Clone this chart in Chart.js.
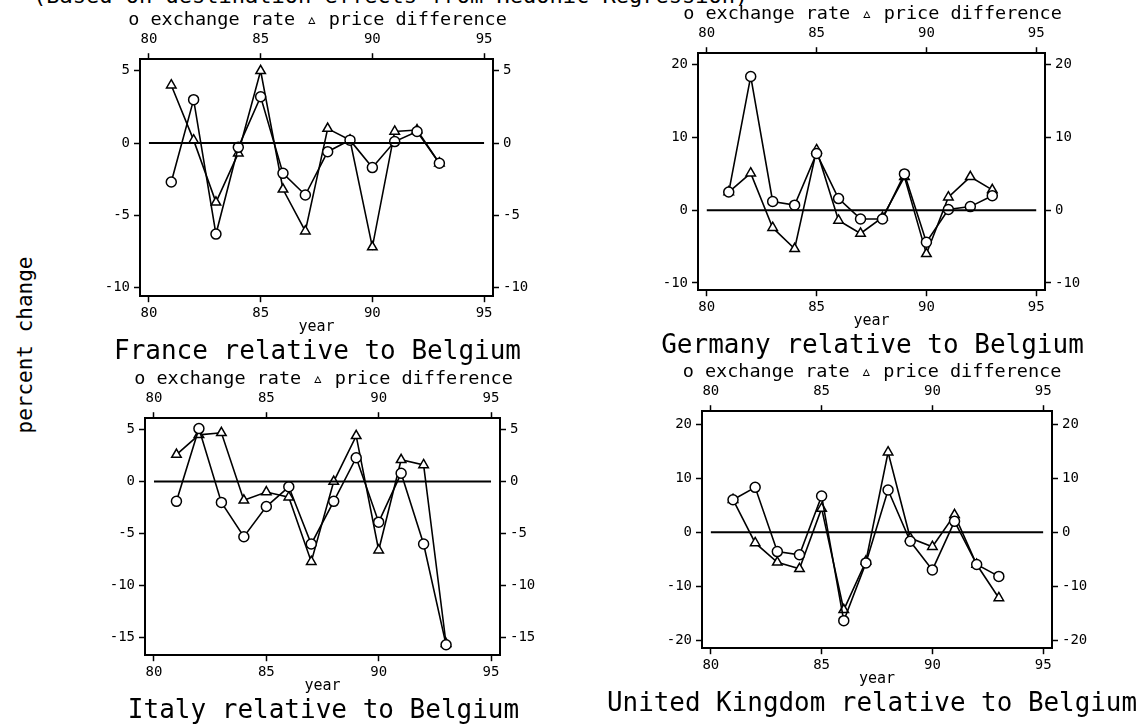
<!DOCTYPE html>
<html>
<head>
<meta charset="utf-8">
<script src="https://cdn.jsdelivr.net/npm/chart.js@4"></script>
<style>
  body { margin: 0; background: #fff; width: 1147px; height: 727px; overflow: hidden; position: relative; font-family: "DejaVu Sans Mono", monospace; }
  .panel { position: absolute; }
  #topNote { position: absolute; left: 33px; top: -17px; font-size: 22px; white-space: nowrap; color: #000; }
  #yLabel { position: absolute; left: 25px; top: 345px; font-size: 21px; white-space: nowrap; color: #000;
            transform: translate(-50%, -50%) rotate(-90deg); }
</style>
</head>
<body>
<div id="topNote">(Based on destination effects from Hedonic Regression)</div>
<div id="yLabel">percent change</div>
<div class="panel" id="p1"><canvas id="c1"></canvas></div>
<div class="panel" id="p2"><canvas id="c2"></canvas></div>
<div class="panel" id="p3"><canvas id="c3"></canvas></div>
<div class="panel" id="p4"><canvas id="c4"></canvas></div>
<script>
const years = [81, 82, 83, 84, 85, 86, 87, 88, 89, 90, 91, 92, 93];
const yearTicks = [80, 85, 90, 95];

// percent change: o exchange rate, triangle price difference
const franceRate   = [-2.7, 3.0, -6.3, -0.3, 3.2, -2.1, -3.6, -0.6, 0.2, -1.7, 0.1, 0.8, -1.4];
const francePrice  = [4.0, 0.2, -4.1, -0.7, 5.0, -3.2, -6.1, 1.0, 0.2, -7.2, 0.8, 0.9, -1.4];
const germanyRate  = [2.5, 18.4, 1.2, 0.7, 7.8, 1.6, -1.2, -1.2, 5.0, -4.4, 0.1, 0.5, 2.0];
const germanyPrice = [2.5, 5.1, -2.4, -5.3, 8.3, -1.4, -3.2, -1.0, 4.6, -6.0, 1.8, 4.6, 2.8];
const italyRate    = [-1.9, 5.1, -2.0, -5.3, -2.4, -0.5, -6.0, -1.9, 2.3, -3.9, 0.8, -6.0, -15.7];
const italyPrice   = [2.6, 4.5, 4.7, -1.8, -1.0, -1.5, -7.7, 0.0, 4.4, -6.6, 2.1, 1.6, -15.6];
const ukRate       = [6.0, 8.3, -3.6, -4.2, 6.7, -16.4, -5.7, 7.8, -1.7, -7.0, 2.0, -6.0, -8.2];
const ukPrice      = [6.0, -2.0, -5.6, -6.8, 4.4, -14.4, -5.4, 14.8, -1.1, -2.7, 3.2, -6.0, -12.2];

const franceTicks  = [-10, -5, 0, 5];
const germanyTicks = [-10, 0, 10, 20];
const italyTicks   = [-15, -10, -5, 0, 5];
const ukTicks      = [-20, -10, 0, 10, 20];

const FONT = "DejaVu Sans Mono";
const SUB_SIZE = 18.5, TITLE_SIZE = 26;
const TOP_H = 28, BOTTOM_H = 40, SUB_H = SUB_SIZE * 1.2, TITLE_H = TITLE_SIZE * 1.2;

function toPoints(vals) {
  return years.map((yr, i) => ({ x: yr, y: vals[i] }));
}

function fixedTicks(vals) {
  return scale => { scale.ticks = vals.map(v => ({ value: v })); };
}

function axis(pos, ticks, size, extra) {
  const horiz = pos === "top" || pos === "bottom";
  return Object.assign({
    type: "linear",
    position: pos,
    afterBuildTicks: fixedTicks(ticks),
    afterFit: s => {
      if (horiz) s.height = size;
      else s.width = size;
    },
    grid: { drawOnChartArea: false, drawTicks: true, tickLength: 6, color: "#000", tickWidth: 1.5 },
    border: { display: true, color: "#000", width: 2 },
    ticks: { color: "#000", font: { family: FONT, size: 14 }, padding: horiz ? (pos === "top" ? 5 : 3) : 4,
             maxRotation: 0, autoSkip: false }
  }, extra || {});
}

function makeChart(id, panelId, area, rate, price, yTicks, yMin, yMax, title) {
  const panel = document.getElementById(panelId);
  const lw = area.lw || 45, rw = area.rw || 47;
  const left = area.left - lw;
  const top = area.top - SUB_H - TOP_H;
  const w = area.right - area.left + lw + rw;
  const h = SUB_H + TOP_H + (area.bottom - area.top) + BOTTOM_H + TITLE_H;
  panel.style.left = left + "px";
  panel.style.top = top + "px";
  panel.style.width = w + "px";
  panel.style.height = h + "px";

  new Chart(document.getElementById(id), {
    type: "line",
    data: {
      datasets: [
        {
          label: "zero",
          data: [{ x: 80, y: 0 }, { x: 95, y: 0 }],
          borderColor: "#000",
          borderWidth: 2,
          pointRadius: 0,
          xAxisID: "x",
          yAxisID: "y"
        },
        {
          label: "exchange rate",
          data: toPoints(rate),
          borderColor: "#000",
          borderWidth: 1.6,
          pointStyle: "circle",
          pointRadius: 5,
          pointBorderWidth: 1.5,
          pointBackgroundColor: "#fff",
          pointBorderColor: "#000",
          tension: 0,
          xAxisID: "x",
          yAxisID: "y"
        },
        {
          label: "price difference",
          data: toPoints(price),
          borderColor: "#000",
          borderWidth: 1.6,
          pointStyle: "triangle",
          pointRadius: 5.5,
          pointBorderWidth: 1.5,
          pointBackgroundColor: "#fff",
          pointBorderColor: "#000",
          tension: 0,
          xAxisID: "x",
          yAxisID: "y"
        }
      ]
    },
    options: {
      responsive: true,
      maintainAspectRatio: false,
      animation: false,
      layout: { padding: 0 },
      plugins: {
        legend: { display: false },
        tooltip: { enabled: false },
        subtitle: {
          display: true,
          position: "top",
          text: "o exchange rate \u25B5 price difference",
          color: "#000",
          font: { family: FONT, size: SUB_SIZE, weight: "normal" },
          padding: 0
        },
        title: {
          display: true,
          position: "bottom",
          text: title,
          color: "#000",
          font: { family: FONT, size: TITLE_SIZE, weight: "normal" },
          padding: 0
        }
      },
      scales: {
        x: axis("bottom", yearTicks, BOTTOM_H, {
          min: 79.6, max: 95.4,
          title: { display: true, text: "year", color: "#000", font: { family: FONT, size: 15 }, padding: 0 }
        }),
        x2: axis("top", yearTicks, TOP_H, { min: 79.6, max: 95.4 }),
        y: axis("left", yTicks, lw, { min: yMin, max: yMax }),
        y2: axis("right", yTicks, rw, { min: yMin, max: yMax })
      }
    }
  });
}

makeChart("c1", "p1", { left: 140, right: 493, top: 59, bottom: 296 },
  franceRate, francePrice, franceTicks, -10.6, 5.8, "France relative to Belgium");
makeChart("c2", "p2", { left: 698, right: 1045, top: 53, bottom: 290 },
  germanyRate, germanyPrice, germanyTicks, -11, 21.6, "Germany relative to Belgium");
makeChart("c3", "p3", { left: 145, right: 500, top: 418, bottom: 655 },
  italyRate, italyPrice, italyTicks, -16.7, 6.1, "Italy relative to Belgium");
makeChart("c4", "p4", { left: 702, right: 1052, top: 411, bottom: 648, lw: 95, rw: 85 },
  ukRate, ukPrice, ukTicks, -21.5, 22.4, "United Kingdom relative to Belgium");
</script>
</body>
</html>
